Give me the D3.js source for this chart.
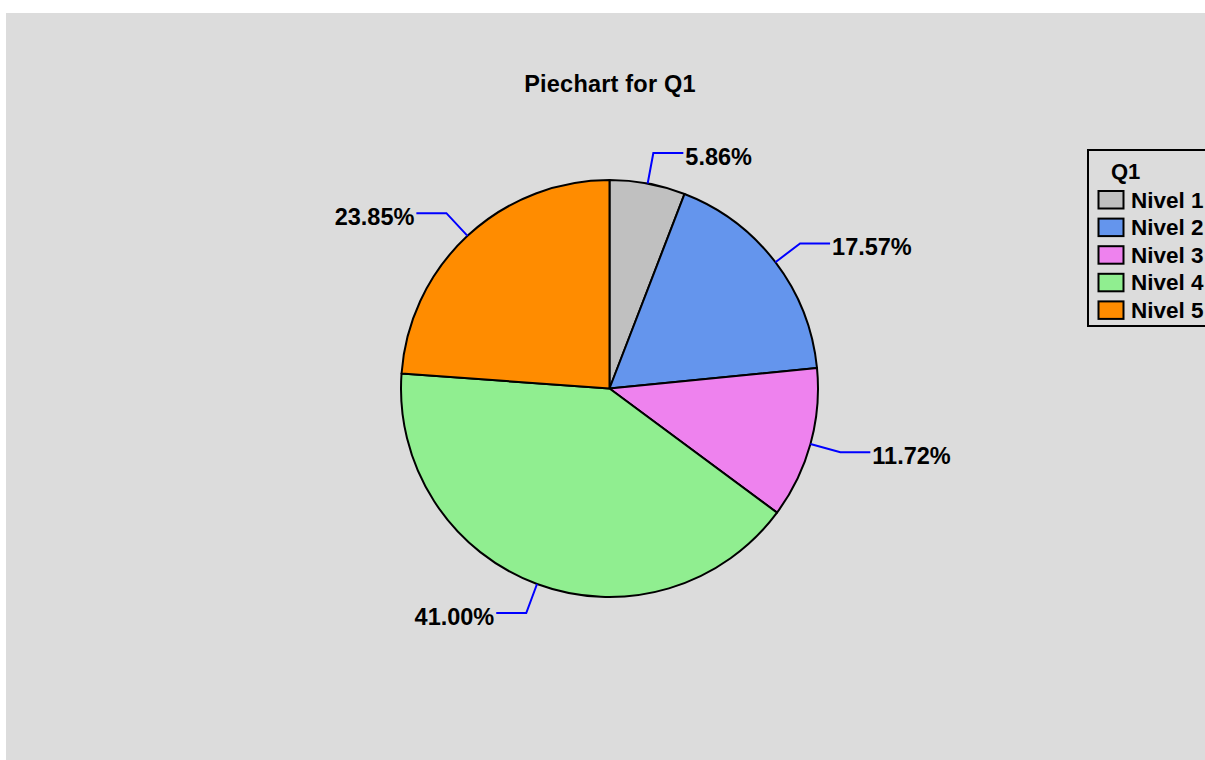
<!DOCTYPE html>
<html>
<head>
<meta charset="utf-8">
<script src="https://cdn.jsdelivr.net/npm/d3@7/dist/d3.min.js"></script>
<style>
  html, body { margin: 0; padding: 0; background: #ffffff; }
  svg { display: block; }
  text { font-family: "Liberation Sans", Arial, Helvetica, sans-serif; font-weight: bold; fill: #000; }
</style>
</head>
<body>
<svg id="chart" width="1205" height="760"></svg>
<script>
// Data for question Q1
const categories = ["Nivel 1", "Nivel 2", "Nivel 3", "Nivel 4", "Nivel 5"];
const percentages = [5.86, 17.57, 11.72, 41.00, 23.85];
const sliceColors = ["#c0c0c0", "#6495ed", "#ee82ee", "#90ee90", "#ff8c00"];
const chartTitle = "Piechart for Q1";
const legendTitle = "Q1";

const svg = d3.select("#chart");
const W = 1205, H = 760;

// Gray plotting panel
svg.append("rect")
  .attr("x", 6).attr("y", 13)
  .attr("width", W - 6).attr("height", H - 13)
  .attr("fill", "#dcdcdc");

// Title
svg.append("text")
  .attr("x", 610).attr("y", 92)
  .attr("text-anchor", "middle")
  .attr("font-size", 23.5)
  .attr("letter-spacing", 0.2)
  .text(chartTitle);

// Pie geometry
const cx = 609.5, cy = 388.5, r = 208.5;
const g = svg.append("g").attr("transform", `translate(${cx},${cy})`);

const color = d3.scaleOrdinal().domain(categories).range(sliceColors);
const pie = d3.pie().sort(null).value(d => d.value);
const arcs = pie(categories.map((c, i) => ({ cat: c, value: percentages[i] })));
const arc = d3.arc().innerRadius(0).outerRadius(r);

g.selectAll("path.slice")
  .data(arcs)
  .join("path")
  .attr("class", "slice")
  .attr("d", arc)
  .attr("fill", d => color(d.data.cat))
  .attr("stroke", "#000")
  .attr("stroke-width", 2)
  .attr("stroke-linejoin", "round");

// Leader lines and percentage labels
const elbowR = r + 31, hLen = 30;
arcs.forEach(d => {
  const a = (d.startAngle + d.endAngle) / 2;
  const sx = r * Math.sin(a), sy = -r * Math.cos(a);
  const ex = elbowR * Math.sin(a), ey = -elbowR * Math.cos(a);
  const dir = Math.sin(a) >= 0 ? 1 : -1;
  const tx = ex + dir * hLen;
  g.append("path")
    .attr("d", `M${sx},${sy}L${ex},${ey}L${tx},${ey}`)
    .attr("fill", "none")
    .attr("stroke", "#0000ff")
    .attr("stroke-width", 2);
  g.append("text")
    .attr("x", tx + dir * 2)
    .attr("y", ey + 11.5)
    .attr("text-anchor", dir > 0 ? "start" : "end")
    .attr("font-size", 23.5)
    .text(d3.format(".2f")(d.data.value) + "%");
});

// Legend
const lg = svg.append("g");
lg.append("rect")
  .attr("x", 1088).attr("y", 150)
  .attr("width", 140).attr("height", 176)
  .attr("fill", "#dcdcdc")
  .attr("stroke", "#000")
  .attr("stroke-width", 2);
lg.append("text")
  .attr("x", 1111).attr("y", 179)
  .attr("font-size", 22)
  .text(legendTitle);
categories.forEach((c, i) => {
  const y0 = 191 + i * 27.6;
  lg.append("rect")
    .attr("x", 1098.5).attr("y", y0)
    .attr("width", 25).attr("height", 17.5)
    .attr("fill", color(c))
    .attr("stroke", "#000")
    .attr("stroke-width", 2);
  lg.append("text")
    .attr("x", 1131).attr("y", y0 + 16.5)
    .attr("font-size", 22.5)
    .text(c);
});
</script>
</body>
</html>
